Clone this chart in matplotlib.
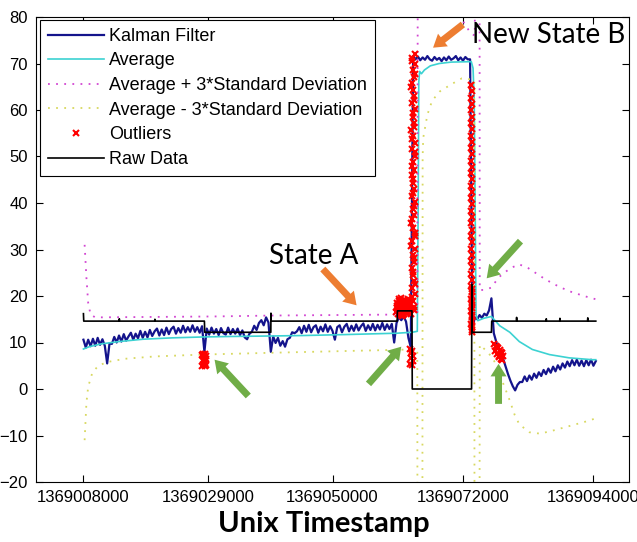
import numpy as np
import matplotlib.pyplot as plt

plt.rcParams['font.family'] = ['Liberation Sans', 'DejaVu Sans']

T0 = 1369000000

# tick values on the time axis
xtick_values = [1369008000, 1369029000, 1369050000, 1369072000, 1369094000]
ytick_values = [-20, -10, 0, 10, 20, 30, 40, 50, 60, 70, 80]

# Kalman filter output, one sample every 400 s from T0 + 8000
kalman_start = 8000
kalman_step = 400
kalman = [10.6, 8.9, 10.6, 9.2, 10.8, 9.3, 11.0, 9.5, 10.7, 9.3,
          5.5, 9.8,
          9.7, 11.2, 10.0, 11.5, 10.2, 11.8, 10.4, 11.3, 12.1, 10.6,
          11.9, 10.9, 12.5, 11.0, 12.3, 11.1, 12.7, 11.4, 12.4, 13.0,
          11.5, 12.8, 11.6, 13.2, 11.8, 12.9, 13.4, 11.9, 13.1, 12.1,
          13.6, 12.2, 13.3, 12.3, 13.7, 12.3, 13.3, 12.1, 13.5,
          8.0,
          13.0, 11.7, 13.2, 11.9, 12.9, 11.6, 13.1, 12.0, 11.7, 13.2,
          11.8, 12.9, 11.9, 13.0, 11.6, 12.6, 11.1, 10.7, 11.9,
          12.3, 13.6, 12.7, 14.2, 14.8, 13.7, 15.4, 14.3,
          8.0,
          11.3, 9.9, 11.0, 9.3, 10.3, 9.1, 10.7,
          11.0, 12.2, 12.0, 12.4,
          13.3, 12.0, 13.6, 12.3, 13.8, 12.2, 13.3, 13.7, 12.1, 13.4,
          12.4, 13.9, 12.3, 13.5, 12.5,
          10.6,
          13.3, 13.7, 12.2, 13.4, 14.0, 12.4, 13.6, 12.5, 13.9, 12.6,
          13.5, 14.1, 12.5, 13.7, 12.7, 14.0, 12.6, 13.8, 12.8, 14.2,
          12.7, 13.9, 12.9, 14.0,
          10.0,
          14.2, 15.4, 14.8, 15.6, 14.5, 11.0, 9.0,
          # state B
          71.6, 70.9, 71.5, 70.7, 71.3, 70.8, 71.6, 70.9, 70.6, 71.4,
          70.8, 71.2, 70.5, 71.3, 70.7, 71.5, 70.8, 71.1, 71.6, 70.7,
          71.3, 70.6, 71.4, 70.9, 70.9,
          # after state B
          13.0, 15.4, 15.0, 15.9, 15.3, 16.2, 15.8, 16.9, 19.5, 12.0,
          10.2, 8.6, 7.3, 6.4, 4.8, 3.2, 1.8, 0.6, -0.3, 0.9, 1.5,
          1.5, 2.7, 1.7, 2.9, 2.0, 3.3, 2.4, 3.6, 2.8, 4.1, 3.2, 4.4,
          3.5, 4.8, 3.8, 5.1, 4.2, 5.5, 4.6, 5.9, 4.9, 6.2, 5.1, 6.3,
          5.0, 6.1, 4.9, 6.2, 5.1, 6.3, 5.0, 6.0]

avg_t = [8000, 9000, 11000, 14000, 18000, 23000, 28400, 33000, 39600, 45000,
         52000, 60900, 63400, 64300, 64450, 64550, 64700, 65000, 65500, 66500,
         68000, 70000, 73400, 73700, 73900, 74050, 74200, 74500, 75500, 76800,
         77500, 78200, 79900, 81500, 83700, 86600, 89900, 93800, 94400]
avg_v = [8.6, 9.1, 9.7, 10.2, 10.7, 11.0, 11.2, 11.3, 11.4, 11.5,
         11.7, 12.0, 12.2, 12.4, 40.0, 66.0, 68.3, 67.8, 68.6, 69.5,
         70.0, 70.3, 70.4, 69.0, 62.0, 40.0, 16.0, 14.7, 15.2, 15.6,
         14.6, 13.6, 12.2, 10.2, 8.5, 7.4, 6.7, 6.3, 6.3]

upper_t = [8200, 8500, 8800, 9200, 10000, 20000, 30000, 40000, 50000, 60000,
           64300, 64450, 66000, 68000, 70000, 71800, 73300, 74000, 74050,
           74750, 74830, 75500, 76800, 78000, 80000, 81500, 83000, 86000,
           88200, 90000, 92400, 94400]
upper_v = [31.0, 24.0, 18.5, 16.0, 15.4, 15.5, 15.6, 15.8, 15.9, 16.0,
           16.3, 160.0, 120.0, 98.0, 86.0, 79.5, 76.5, 76.0, 200.0,
           200.0, 21.3, 21.3, 21.8, 24.0, 26.0, 26.8, 26.0, 23.5,
           22.0, 21.0, 20.0, 19.3]

lower_t = [8200, 8500, 8800, 9500, 10500, 12000, 15000, 20000, 28000, 40000,
           50000, 60000, 63400, 64300, 64400, 65100, 65200, 65300, 66000,
           66800, 68100, 70000, 71800, 73900, 74000, 74700, 74830, 75700,
           76800, 77500, 78200, 79000, 79900, 80700, 81500, 83200, 85000,
           87000, 89000, 91000, 93000, 94400]
lower_v = [-11.0, -3.0, 0.5, 3.5, 5.0, 5.8, 6.5, 7.0, 7.4, 7.8,
           8.1, 8.4, 8.5, 8.0, -150.0, -150.0, 50.0, 54.0, 59.0,
           62.0, 64.0, 65.5, 66.8, 66.5, -150.0, -150.0, 9.5, 8.5,
           7.0, 5.5, 3.0, 0.5, -2.5, -5.5, -7.6, -9.3, -9.6,
           -9.0, -8.3, -7.6, -6.9, -6.3]

raw_t = [8000, 8050, 14000, 14050, 14100, 20000, 20050, 20100, 28400, 28450,
         39600, 39620, 39650, 60900, 60950, 63400, 63450, 73450, 73500, 73550,
         76800, 76850, 81000, 81050, 81100, 86000, 86050, 86100, 88300, 88350,
         88400, 93000, 93050, 93100, 94400]
raw_v = [16.2, 14.6, 14.6, 15.1, 14.6, 14.6, 15.0, 14.6, 14.6, 12.2,
         12.2, 16.3, 14.6, 14.6, 16.8, 16.8, 0.0, 0.0, 22.5, 12.2,
         12.2, 14.6, 14.6, 15.4, 14.6, 14.6, 15.1, 14.6, 14.6, 15.2,
         14.6, 14.6, 15.3, 14.6, 14.6]

# outliers, grouped by where they occur
out1_t = [27950, 28050, 28150, 28250, 28350, 28450, 28550, 28650, 28750,
          28100, 28300, 28500, 28700, 28200]
out1_v = [7.4, 5.0, 7.1, 5.3, 6.9, 5.6, 7.5, 5.1, 6.4, 6.2, 6.0, 4.9, 7.2, 7.6]

out2_t = [60700, 60850, 61000, 61150, 61300, 61450, 61600, 61750, 61900,
          62050, 62200, 62350, 62500, 62650, 62800, 62950, 63100, 60900,
          61200, 61500, 61800, 62100, 62400, 62700, 60800, 61050, 61350,
          61650, 61950, 62250, 62550, 62850, 63000, 61100, 61700, 62300]
out2_v = [16.5, 18.6, 17.2, 19.3, 16.0, 18.1, 19.5, 16.8, 18.9, 17.5, 19.2,
          16.3, 18.4, 17.0, 19.4, 16.6, 18.0, 17.8, 18.9, 16.4, 17.9, 16.1,
          17.6, 19.1, 17.4, 16.1, 17.0, 18.2, 16.0, 17.3, 16.4, 18.3, 17.2,
          18.0, 15.8, 18.7]

out3_t = [63050, 63150, 63250, 63350, 63450, 63550, 63650, 63300]
out3_v = [8.6, 5.4, 7.8, 5.1, 8.2, 6.0, 7.0, 6.6]

out4_t = [63300, 63700, 63500, 63900, 63400, 63800, 63600, 63350, 63750,
          63550, 63950, 63450, 63850, 63650, 63300, 63700, 63500, 63900,
          63400, 63800, 63600, 63350, 63750, 63550, 63950, 63450, 63850,
          63650, 63300, 63700, 63500, 63900, 63400, 63800, 63600, 63350,
          63750, 63550, 63950, 63450, 63850,
          63800, 63400, 63900, 63500, 63700, 63300, 63850, 63450, 63750,
          63550, 63650, 63350, 63900, 63400, 63800, 63500, 63700, 63300,
          63850, 63450]
out4_v = [16.2, 17.6, 18.9, 20.4, 21.7, 23.2, 24.5, 26.1, 27.3, 28.9, 30.1,
          31.8, 33.0, 34.6, 35.8, 37.4, 38.7, 40.3, 41.5, 43.1, 44.3, 46.0,
          47.2, 48.8, 50.0, 51.6, 52.9, 54.5, 55.7, 57.3, 58.5, 60.2, 61.4,
          63.0, 64.2, 65.8, 67.1, 68.7, 69.9, 71.2, 72.1,
          17.0, 19.8, 22.5, 25.2, 28.1, 30.8, 33.6, 36.5, 39.4, 42.2, 45.1,
          48.0, 50.9, 53.7, 56.4, 59.3, 62.1, 64.9, 67.8, 70.6]

out5_t = [73300, 73550, 73300, 73550, 73300, 73550, 73300, 73550, 73300,
          73550, 73300, 73550, 73300, 73550, 73300, 73550, 73300, 73550,
          73300, 73550, 73300, 73550, 73300, 73550, 73300, 73550, 73300,
          73550, 73300, 73550, 73300, 73550, 73300, 73550, 73300, 73550,
          73300, 73550, 73300, 73550, 73450, 73450, 73450, 73450, 73450,
          73450, 73450, 73450]
out5_v = [65.3, 64.0, 62.6, 61.3, 59.9, 58.6, 57.2, 55.9, 54.5, 53.2, 51.8,
          50.5, 49.1, 47.8, 46.4, 45.1, 43.7, 42.4, 41.0, 39.7, 38.3, 37.0,
          35.6, 34.3, 32.9, 31.6, 30.2, 28.9, 27.5, 26.2, 24.8, 23.5, 22.1,
          20.8, 19.4, 18.1, 16.7, 15.4, 14.0, 12.6, 21.5, 20.1, 18.7, 17.4,
          16.0, 14.7, 13.3, 12.2]

out6_t = [77300, 77450, 77600, 77750, 77900, 78050, 78200, 78350, 78500,
          78650, 78800, 77700, 78100, 78400]
out6_v = [9.6, 8.2, 9.3, 7.6, 8.8, 7.0, 8.3, 6.5, 7.7, 6.2, 7.1, 9.0, 6.8, 8.0]

c_kalman = '#14148c'
c_avg = '#3cd2d2'
c_upper = '#d246d2'
c_lower = '#d8d860'
c_out = '#ff0000'
c_orange = '#ed7d31'
c_green = '#70ad47'

kalman_t = T0 + kalman_start + kalman_step * np.arange(len(kalman))
outlier_t = T0 + np.array(out1_t + out2_t + out3_t + out4_t + out5_t + out6_t)
outlier_v = out1_v + out2_v + out3_v + out4_v + out5_v + out6_v

fig = plt.figure(figsize=(6.37, 5.42), dpi=100)
ax = fig.add_axes([36 / 637, 1 - 482 / 542, 593 / 637, 465 / 542])

ax.plot(kalman_t, kalman, color=c_kalman, lw=1.6, label='Kalman Filter')
ax.plot(T0 + np.array(avg_t), avg_v, color=c_avg, lw=1.2, label='Average')
ax.plot(T0 + np.array(upper_t), upper_v, color=c_upper, lw=1.3,
        ls=(0, (1, 3.5)), label='Average + 3*Standard Deviation')
ax.plot(T0 + np.array(lower_t), lower_v, color=c_lower, lw=1.3,
        ls=(0, (1, 3.5)), label='Average - 3*Standard Deviation')
ax.plot(outlier_t, outlier_v, 'x', color=c_out, ms=4.5, mew=1.5,
        label='Outliers')
ax.plot(T0 + np.array(raw_t), raw_v, color='black', lw=1.2, label='Raw Data')

ax.set_xlim(T0, T0 + 100000)
ax.set_ylim(-20, 80)
ax.set_xticks(xtick_values)
ax.set_xticklabels([str(v) for v in xtick_values])
ax.set_yticks(ytick_values)
ax.tick_params(direction='in', length=5, width=0.8, top=True, right=True,
               labelsize=12, pad=6)

leg = ax.legend(loc='upper left', bbox_to_anchor=(0.007, 0.994),
                borderaxespad=0, fontsize=13, handlelength=3.1,
                handletextpad=0.28, labelspacing=0.42, borderpad=0.45,
                fancybox=False, framealpha=1, edgecolor='black')
leg.get_frame().set_linewidth(0.8)

# annotations
txt = dict(family=['Lato', 'DejaVu Sans'], fontsize=20, color='black')
arrow = 'simple,head_length=0.9,head_width=1.15,tail_width=0.5'


def add_arrow(tail, head, color):
    ax.annotate('', xy=(T0 + head[0], head[1]), xytext=(T0 + tail[0], tail[1]),
                arrowprops=dict(arrowstyle=arrow, color=color, lw=0,
                                mutation_scale=10, shrinkA=0, shrinkB=0))


ax.text(T0 + 73600, 76.2, 'New State B', ha='left', va='center', **txt)
add_arrow((71990, 78.4), (66960, 73.4), c_orange)
ax.text(T0 + 39300, 28.6, 'State A', ha='left', va='center', **txt)
add_arrow((48370, 25.8), (54060, 18.0), c_orange)

add_arrow((35800, -1.5), (30110, 6.3), c_green)
add_arrow((56070, 1.1), (61600, 9.1), c_green)
add_arrow((81700, 31.8), (76000, 23.8), c_green)
add_arrow((78000, -3.2), (78000, 5.4), c_green)

fig.text(324 / 637, 1 - 524 / 542, 'Unix Timestamp', ha='center', va='center',
         family=['Lato', 'DejaVu Sans'], fontsize=21, fontweight='bold')

fig.savefig('out.png', dpi=100)
